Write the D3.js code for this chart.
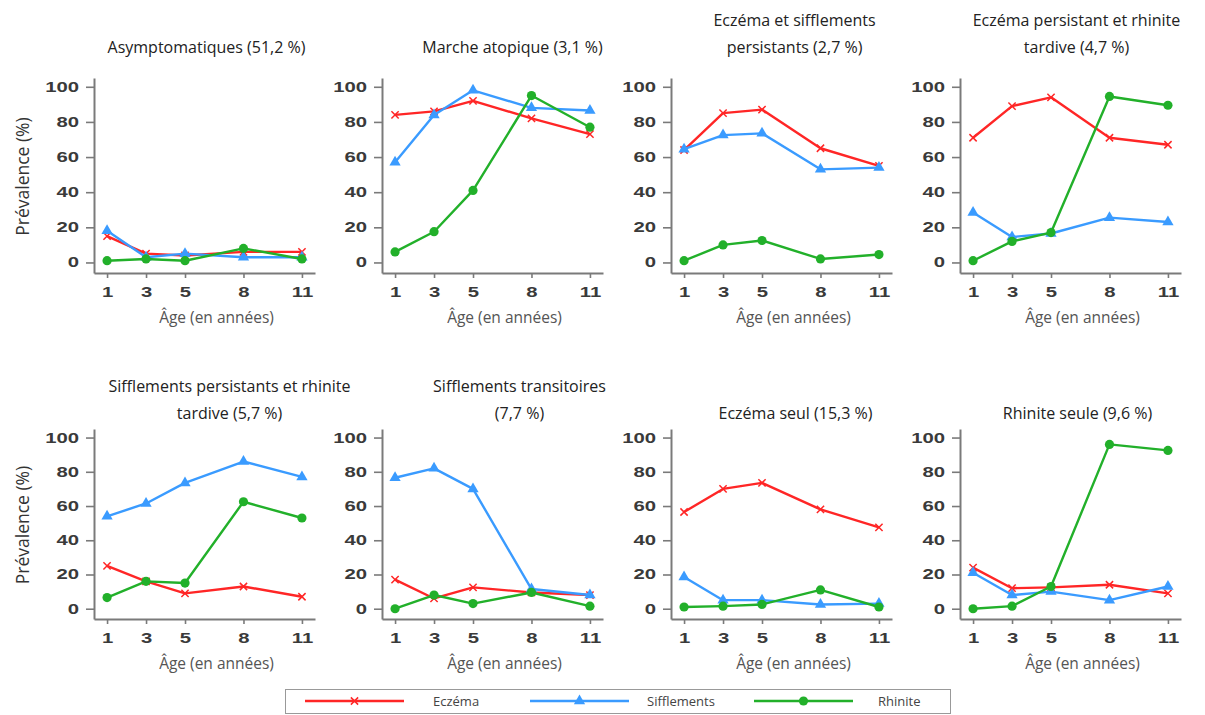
<!DOCTYPE html>
<html>
<head>
<meta charset="utf-8">
<script src="https://cdn.jsdelivr.net/npm/d3@7"></script>
<style>
  body { margin: 0; background: #fff; }
  svg { display: block; }
</style>
</head>
<body>
<svg id="chart" width="1205" height="715"></svg>
<script>
// ages (x)
const ages = [1, 3, 5, 8, 11];
const yTicks = [0, 20, 40, 60, 80, 100];

const seriesNames = ["Eczéma", "Sifflements", "Rhinite"];
const seriesColors = ["#ff2626", "#3a9bff", "#22b02a"];
const seriesMarkers = ["cross", "triangle", "circle"];

// one title (lines) per panel
const panelTitles = [
    ["Asymptomatiques (51,2 %)"],
    ["Marche atopique (3,1 %)"],
    ["Eczéma et sifflements", "persistants (2,7 %)"],
    ["Eczéma persistant et rhinite", "tardive (4,7 %)"],
    ["Sifflements persistants et rhinite", "tardive (5,7 %)"],
    ["Sifflements transitoires", "(7,7 %)"],
    ["Eczéma seul (15,3 %)"],
    ["Rhinite seule (9,6 %)"]
];

// prevalence (%) per panel, order eczema / sifflements / rhinite
const eczema = [
    [15, 5, 4, 6, 6],
    [84, 86, 92, 82, 73],
    [64, 85, 87, 65, 55],
    [71, 89, 94, 71, 67],
    [25, 16, 9, 13, 7],
    [17, 6, 12.5, 9.5, 8],
    [56.5, 70, 73.5, 58, 47.5],
    [24, 12, 12.5, 14, 9]
];
const sifflements = [
    [18, 3, 5, 3, 3],
    [57, 84, 98, 88, 86.5],
    [64.5, 72.5, 73.5, 53, 54],
    [28.5, 14.5, 16.5, 25.5, 23],
    [54, 61.5, 73.5, 86, 77],
    [76.5, 82, 70, 11.5, 8],
    [18.5, 5, 5, 2.5, 3],
    [21, 8, 10, 5, 13]
];
const rhinite = [
    [1, 2, 1, 8, 2],
    [6, 17.5, 41, 95, 77],
    [1, 10, 12.5, 2, 4.5],
    [1, 12, 17, 94.5, 89.5],
    [6.5, 16, 15, 62.5, 53],
    [0, 8, 3, 9.5, 1.5],
    [1, 1.5, 2.5, 11, 1],
    [0, 1.5, 13, 96, 92.5]
];

// layout
const axisX = [94, 382, 671, 960];
const rowTop = [78, 429];
const rowBottom = [273, 619];
const plotW = 221;
const titleShift = [2, 20, 13, 6, 25, 27, 14, 7];

const svg = d3.select("#chart");
const tickFont = "'Liberation Sans', Arial, sans-serif";
const textFont = "'Open Sans', 'Noto Sans', sans-serif";

function drawMarker(g, type, x, y, color) {
    if (type === "cross") {
        g.append("path")
            .attr("d", d3.symbol().type(d3.symbolX).size(36)())
            .attr("transform", `translate(${x},${y})`)
            .attr("fill", "none")
            .attr("stroke", color)
            .attr("stroke-width", 1.5);
    } else if (type === "triangle") {
        g.append("path")
            .attr("d", d3.symbol().type(d3.symbolTriangle).size(55)())
            .attr("transform", `translate(${x},${y})`)
            .attr("fill", color);
    } else {
        g.append("circle")
            .attr("cx", x).attr("cy", y).attr("r", 4.6)
            .attr("fill", color);
    }
}

for (let p = 0; p < 8; p++) {
    const row = Math.floor(p / 4), col = p % 4;
    const x0 = axisX[col];

    const x = d3.scaleLinear().domain([0.33, 11.67]).range([x0, x0 + plotW]);
    const y = d3.scaleLinear().domain([-6, 105]).range([rowBottom[row], rowTop[row]]);

    const g = svg.append("g");

    // axes
    const yAxis = g.append("g")
        .attr("transform", `translate(${x0},0)`)
        .call(d3.axisLeft(y).tickValues(yTicks).tickSize(8).tickPadding(6).tickSizeOuter(0));
    const xAxis = g.append("g")
        .attr("transform", `translate(0,${rowBottom[row]})`)
        .call(d3.axisBottom(x).tickValues(ages).tickSize(5).tickPadding(9).tickSizeOuter(0));

    [yAxis, xAxis].forEach(a => {
        a.select(".domain").attr("stroke", "#7a7a7a").attr("stroke-width", 2);
        a.selectAll(".tick line").attr("stroke", "#7a7a7a").attr("stroke-width", 1.6);
        a.selectAll(".tick text")
            .attr("fill", "#3a3a3a")
            .style("font-family", tickFont)
            .style("font-weight", "bold")
            .style("font-size", "14px");
    });
    yAxis.selectAll(".tick text")
        .attr("x", 0)
        .attr("transform", "translate(-15,0) scale(1.45,1)");
    xAxis.selectAll(".tick text")
        .attr("transform", "scale(1.45,1)");

    // x label
    g.append("text")
        .attr("x", x0 + plotW / 2 + 12)
        .attr("y", rowBottom[row] + 50)
        .attr("text-anchor", "middle")
        .attr("fill", "#555")
        .style("font-family", textFont)
        .style("font-size", "15.5px")
        .text("Âge (en années)");

    // y label
    if (col === 0) {
        const cy = (rowTop[row] + rowBottom[row]) / 2 + 1;
        g.append("text")
            .attr("transform", `translate(29,${cy}) rotate(-90)`)
            .attr("text-anchor", "middle")
            .attr("fill", "#333")
            .style("font-family", textFont)
            .style("font-size", "17.5px")
            .text("Prévalence (%)");
    }

    // title
    const lines = panelTitles[p];
    const titleBase = row === 0 ? 53 : 419;
    lines.forEach((t, i) => {
        g.append("text")
            .attr("x", x0 + plotW / 2 + titleShift[p])
            .attr("y", titleBase - (lines.length - 1 - i) * 27)
            .attr("text-anchor", "middle")
            .attr("fill", "#222")
            .style("font-family", textFont)
            .style("font-size", "16px")
            .text(t);
    });

    // series
    const allSeries = [eczema[p], sifflements[p], rhinite[p]];
    const line = d3.line().x((d, i) => x(ages[i])).y(d => y(d));
    allSeries.forEach((vals, s) => {
        g.append("path")
            .datum(vals)
            .attr("d", line)
            .attr("fill", "none")
            .attr("stroke", seriesColors[s])
            .attr("stroke-width", 2.4)
            .attr("stroke-linejoin", "round");
        vals.forEach((v, i) => drawMarker(g, seriesMarkers[s], x(ages[i]), y(v), seriesColors[s]));
    });
}

// legend
const legend = svg.append("g");
legend.append("rect")
    .attr("x", 285.5).attr("y", 689.5)
    .attr("width", 665).attr("height", 24)
    .attr("fill", "#fff").attr("stroke", "#999").attr("stroke-width", 1);

const legendLineX = [305, 530, 754];
const legendTextX = [433, 647, 878];
seriesNames.forEach((name, s) => {
    legend.append("line")
        .attr("x1", legendLineX[s]).attr("x2", legendLineX[s] + 99)
        .attr("y1", 701).attr("y2", 701)
        .attr("stroke", seriesColors[s]).attr("stroke-width", 2.6);
    drawMarker(legend, seriesMarkers[s], legendLineX[s] + 49.5, 701, seriesColors[s]);
    legend.append("text")
        .attr("x", legendTextX[s]).attr("y", 705.5)
        .attr("fill", "#444")
        .style("font-family", textFont)
        .style("font-size", "13px")
        .text(name);
});
</script>
</body>
</html>
